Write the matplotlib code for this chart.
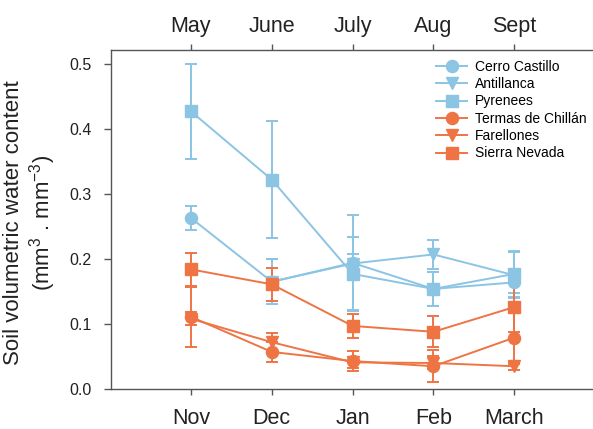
import numpy as np
import matplotlib
matplotlib.use('Agg')
import matplotlib.pyplot as plt

plt.rcParams['font.family'] = ['Liberation Sans', 'DejaVu Sans']
plt.rcParams['mathtext.fontset'] = 'custom'
plt.rcParams['mathtext.rm'] = 'Liberation Sans'
plt.rcParams['mathtext.it'] = 'Liberation Sans:italic'

months_bottom = ['Nov', 'Dec', 'Jan', 'Feb', 'March']
months_top = ['May', 'June', 'July', 'Aug', 'Sept']

# southern sites (blue)
cerro_castillo = [0.263, 0.165, 0.194, 0.154, 0.164]
cerro_castillo_err = [0.019, 0.035, 0.073, 0.026, 0.016]
antillanca = [np.nan, 0.165, 0.193, 0.207, 0.175]
antillanca_err = [np.nan, 0.035, 0.015, 0.022, 0.035]
pyrenees = [0.427, 0.322, 0.177, 0.154, 0.177]
pyrenees_err = [0.073, 0.090, 0.057, 0.026, 0.036]

# northern sites (orange)
termas_chillan = [0.111, 0.057, 0.043, 0.035, 0.079]
termas_chillan_err = [0.046, 0.015, 0.016, 0.025, 0.040]
farellones = [0.108, 0.072, 0.041, 0.040, 0.035]
farellones_err = [0.010, 0.014, 0.008, 0.010, 0.006]
sierra_nevada = [0.184, 0.161, 0.097, 0.088, 0.126]
sierra_nevada_err = [0.025, 0.025, 0.019, 0.024, 0.039]

blue = '#8cc4e4'
orange = '#ef7444'

series = [
    ('Cerro Castillo', cerro_castillo, cerro_castillo_err, blue, 'o'),
    ('Antillanca', antillanca, antillanca_err, blue, 'v'),
    ('Pyrenees', pyrenees, pyrenees_err, blue, 's'),
    ('Termas de Chillán', termas_chillan, termas_chillan_err, orange, 'o'),
    ('Farellones', farellones, farellones_err, orange, 'v'),
    ('Sierra Nevada', sierra_nevada, sierra_nevada_err, orange, 's'),
]

x = np.arange(len(months_bottom))

fig = plt.figure(figsize=(5.93, 4.29), dpi=100)
ax = fig.add_axes([111 / 593, 40 / 429, 482 / 593, 339 / 429])

handles = []
names = []
for name, vals, errs, col, mk in series:
    eb = ax.errorbar(x, vals, yerr=errs, color=col, marker=mk, markersize=8.7,
                     lw=1.4, elinewidth=1.4, capsize=4.3, capthick=1.4)
    handles.append(eb[0])
    names.append(name)

ax.set_xlim(-0.99, 4.975)
ax.set_ylim(0, 0.5215)
ax.set_yticks([0.0, 0.1, 0.2, 0.3, 0.4, 0.5])
ax.set_yticklabels(['%.1f' % v for v in [0.0, 0.1, 0.2, 0.3, 0.4, 0.5]])
ax.set_xticks(x)
ax.set_xticklabels(months_bottom)

for s in ['left', 'bottom', 'top']:
    ax.spines[s].set_color('#555555')
    ax.spines[s].set_linewidth(1.0)
ax.spines['right'].set_visible(False)

ax.tick_params(axis='y', direction='out', length=5, width=1, color='#555555',
               labelsize=11.5, pad=9, labelcolor='#222222')
ax.tick_params(axis='x', direction='out', length=4, width=1, color='#555555',
               labelsize=15.5, pad=10, labelcolor='#222222')

top = ax.secondary_xaxis('top')
top.set_xticks(x)
top.set_xticklabels(months_top)
top.spines['top'].set_visible(False)
top.tick_params(direction='out', length=4, width=1, color='#555555',
                labelsize=15.5, pad=5, labelcolor='#222222')

ax.set_ylabel('Soil volumetric water content\n(mm$^3$ . mm$^{-3}$)', fontsize=16,
              color='#222222', linespacing=1.15)
ax.yaxis.set_label_coords(-0.11, 0.49)

ax.legend(handles, names, loc='upper left', bbox_to_anchor=(0.655, 1.0),
          frameon=False, fontsize=10, handlelength=2.2, labelspacing=0.24,
          handletextpad=0.55, borderaxespad=0.3, numpoints=1)

fig.savefig('out.png', dpi=100)
